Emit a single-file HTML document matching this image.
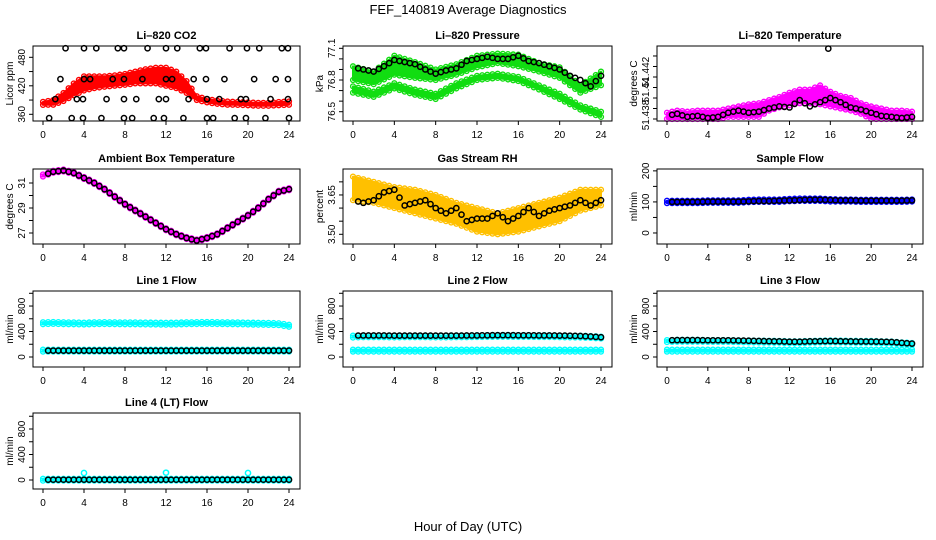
<!DOCTYPE html>
<html><head><meta charset="utf-8">
<style>
html,body{margin:0;padding:0;background:#fff;}
svg{display:block;font-family:"Liberation Sans",Arial,sans-serif;}
</style></head>
<body>
<svg id="chart" width="936" height="540" viewBox="0 0 936 540" xmlns="http://www.w3.org/2000/svg">
<text x="468" y="14" text-anchor="middle" font-size="13">FEF_140819  Average Diagnostics</text>
<text x="468" y="531" text-anchor="middle" font-size="13">Hour of Day (UTC)</text>
</svg>
<script>
// ---------- data ----------
const hours25 = [0,1,2,3,4,5,6,7,8,9,10,11,12,13,14,15,16,17,18,19,20,21,22,23,24];
const hours13 = [0,2,4,6,8,10,12,14,16,18,20,22,24];
const xTicks = [0,4,8,12,16,20,24];

// CO2
const co2Lo = [380,380,388,400,410,415,418,420,422,425,425,425,420,415,405,390,385,382,380,380,379,378,378,379,380];
const co2Hi = [386,390,405,425,440,440,440,442,445,450,455,458,458,450,430,398,392,389,387,386,385,384,384,386,387];
const co2BlackHours = [2.2,4,5.2,7.3,7.9,10.2,12,13.1,15.3,15.9,18.2,19.9,21.1,23.3,23.9,
  1.7,4,4.6,6.8,7.9,9.7,12,12.6,14.7,15.9,17.7,20.6,22.7,23.9,
  1.2,3.3,3.9,6.2,7.9,9.1,11.3,12,14.2,16,17.2,19.3,19.8,22.2,23.9,
  0.6,2.8,3.9,5.7,7.9,8.7,10.8,11.8,13.7,16,16.6,18.7,19.8,21.7,24];
const co2BlackVals = [499,499,499,499,499,499,499,499,499,499,499,499,499,499,499,
  434,434,434,434,434,434,434,434,434,434,434,434,434,434,
  392,392,392,392,392,392,392,392,392,392,392,392,392,392,392,
  352,352,352,352,352,352,352,352,352,352,352,352,352,352,352];

// Pressure
const presUpLo = [76.80,76.76,76.85,76.82,76.80,76.85,76.92,76.96,76.93,76.88,76.82,76.68,76.75];
const presUpHi = [76.93,76.88,77.03,76.97,76.90,76.95,77.03,77.05,77.04,76.96,76.92,76.75,76.88];
const presLowLo = [76.68,76.64,76.72,76.66,76.62,76.72,76.80,76.82,76.79,76.71,76.62,76.52,76.45];
const presLowHi = [76.74,76.69,76.77,76.71,76.67,76.77,76.84,76.86,76.83,76.75,76.67,76.56,76.50];
const presBlack = [76.92,76.90,76.88,76.93,76.99,76.97,76.95,76.90,76.86,76.89,76.91,76.98,77.00,77.02,77.00,77.00,77.03,76.98,76.96,76.93,76.90,76.84,76.80,76.74,76.84];

// Li-820 temperature
const ltLo = [51.4370,51.4370,51.4370,51.4370,51.4370,51.4370,51.4372,51.4372,51.4372,51.4372,51.4378,51.4381,51.4383,51.4385,51.4385,51.4384,51.4382,51.4380,51.4378,51.4375,51.4370,51.4370,51.4370,51.4370,51.4370];
const ltHi = [51.4376,51.4378,51.4377,51.4378,51.4378,51.4378,51.4380,51.4382,51.4384,51.4385,51.4388,51.4391,51.4395,51.4398,51.4398,51.4402,51.4396,51.4392,51.4390,51.4385,51.4382,51.4380,51.4378,51.4378,51.4377];
const ltBlack = [51.4373,51.4375,51.4372,51.4373,51.4371,51.4372,51.4376,51.4378,51.4376,51.4377,51.4380,51.4382,51.4381,51.4388,51.4382,51.4386,51.4390,51.4386,51.4381,51.4379,51.4376,51.4373,51.4372,51.4371,51.4372];

// Ambient box temperature
const ambTemp = [31.6,31.9,32.0,31.8,31.4,31.0,30.5,29.9,29.3,28.8,28.3,27.8,27.3,26.9,26.6,26.4,26.6,26.9,27.4,27.9,28.4,29.0,29.7,30.3,30.5];

// Gas stream RH
const rhLo = [3.63,3.62,3.60,3.58,3.56,3.54,3.51,3.50,3.51,3.53,3.55,3.59,3.61];
const rhHi = [3.72,3.70,3.68,3.67,3.65,3.62,3.60,3.58,3.60,3.62,3.64,3.67,3.67];
const rhBlack = [3.63,3.62,3.63,3.66,3.67,3.61,3.62,3.63,3.60,3.58,3.60,3.55,3.56,3.56,3.58,3.55,3.57,3.60,3.57,3.59,3.60,3.61,3.63,3.61,3.63];

// Sample flow
const sfLo = [96,96,96,96,97,97,97,97,99,100,100,100,102,103,103,103,101,101,101,100,100,100,100,100,101];
const sfHi = [104,104,104,104,105,105,105,105,107,108,108,108,110,111,111,111,109,108,108,107,107,107,107,107,108];
const sfBlack = [100,100,100,100,101,101,101,101,102,103,103,104,105,106,107,107,106,105,105,104,104,104,104,104,105];

// Line flows
const l1CyanHigh = [530,535,530,528,525,530,532,530,528,528,526,525,522,525,530,532,535,532,530,528,525,522,520,515,490];
const l1CyanLow = [100,100,100,100,100,100,100,100,100,100,100,100,100,100,100,100,100,100,100,100,100,100,100,100,100];
const l1Black = [100,100,100,100,100,100,100,100,100,100,100,100,100,100,100,100,100,100,100,100,100,100,100,100,100];
const l2CyanHigh = [320,325,325,325,322,325,325,325,322,322,325,325,328,330,332,332,330,330,328,328,325,322,320,315,305];
const l2CyanLow = [100,100,100,100,100,100,100,100,100,100,100,100,100,100,100,100,100,100,100,100,100,100,100,100,100];
const l2Black = [335,338,338,338,335,336,336,336,335,335,336,337,338,340,342,342,340,340,338,338,336,334,330,322,310];
const l3CyanHigh = [250,255,255,255,252,252,252,248,245,242,240,238,232,232,238,242,245,243,240,238,238,232,228,215,205];
const l3CyanLow = [100,100,100,100,100,100,100,100,100,100,100,100,100,100,100,100,100,100,100,100,100,100,100,100,100];
const l3Black = [262,265,265,265,262,262,262,258,255,252,248,245,240,240,245,248,250,248,245,243,242,240,236,222,210];
const l4Cyan = [5,5,5,5,5,5,5,5,5,5,5,5,5,5,5,5,5,5,5,5,5,5,5,5,5];
const l4CyanOutHours = [4,12,20];
const l4CyanOutVals = [110,115,110];
const l4Black = [5,5,5,5,5,5,5,5,5,5,5,5,5,5,5,5,5,5,5,5,5,5,5,5,5];

// ---------- drawing ----------
const NS = "http://www.w3.org/2000/svg";
const svg = document.getElementById('chart');
function mk(tag, attrs, parent){
  const e = document.createElementNS(NS, tag);
  for (const k in attrs) e.setAttribute(k, attrs[k]);
  (parent||svg).appendChild(e);
  return e;
}

function makePanel(p){
  const g = mk('g', {});
  
  
  p.g = g;
  p.x = h => (p.left + 10) + h / 24 * ((p.right - 11) - (p.left + 10));
  p.y = v => p.bottom - (v - p.ymin) / (p.ymax - p.ymin) * (p.bottom - p.top);
  const t = mk('text', {x:(p.left+p.right)/2, y:p.top-7, 'text-anchor':'middle', 'font-size':11, 'font-weight':'bold'}, g);
  t.textContent = p.title;
  
  
  return p;
}

function finishPanel(p){
  const g = p.g;
  const box = mk('rect', {x:p.left, y:p.top, width:p.right-p.left, height:p.bottom-p.top, fill:'none', stroke:'#000', 'stroke-width':1}, g);
  
  
  const xa = mk('g', {}, g);
  
  
  xTicks.forEach(h => {
    const x = p.x(h);
    mk('line', {x1:x, x2:x, y1:p.bottom, y2:p.bottom+4, stroke:'#000'}, xa);
    const tl = mk('text', {x:x, y:p.bottom+17, 'text-anchor':'middle', 'font-size':10}, xa);
    tl.textContent = h;
  });
  const ya = mk('g', {}, g);
  
  
  p.yticks.forEach(v => {
    const y = p.y(v);
    mk('line', {x1:p.left-4, x2:p.left, y1:y, y2:y, stroke:'#000'}, ya);
  });
  p.ylabels.forEach((lab, i) => {
    const y = p.y(p.ylabelVals[i]);
    const tl = mk('text', {x:0, y:0, 'text-anchor':'middle', 'font-size':10, transform:`translate(${p.left-8},${y}) rotate(-90)`}, ya);
    tl.textContent = lab;
  });
  const yt = mk('text', {x:0, y:0, 'text-anchor':'middle', 'font-size':10, transform:`translate(${p.left-20},${(p.top+p.bottom)/2}) rotate(-90)`}, g);
  yt.textContent = p.ytitle;
  
  
}

function interp(hs, vals, h){
  for (let i=0;i<hs.length-1;i++){
    if (h>=hs[i] && h<=hs[i+1]){
      const f=(h-hs[i])/(hs[i+1]-hs[i]);
      return vals[i]+(vals[i+1]-vals[i])*f;
    }
  }
  return vals[vals.length-1];
}

function band(p, hs, lo, hi, color, name, minPx){
  const g = mk('g', {}, p.g);
  
  
  const top = [], bot = [];
  for (let h=0; h<=24.0001; h+=0.25){
    let yl = p.y(interp(hs, lo, h)), yh = p.y(interp(hs, hi, h));
    if (yl - yh < (minPx||0)) { const c=(yl+yh)/2; yl=c+minPx/2; yh=c-minPx/2; }
    top.push([p.x(h), yh]); bot.push([p.x(h), yl]);
  }
  const pts = top.concat(bot.slice().reverse()).map(q=>q[0].toFixed(1)+','+q[1].toFixed(1)).join(' ');
  mk('polygon', {points:pts, fill:color, stroke:color, 'stroke-width':2, 'stroke-linejoin':'round'}, g);
  for (let i=0;i<top.length;i+=2){
    mk('circle', {cx:top[i][0], cy:top[i][1], r:2.4, fill:'none', stroke:color, 'stroke-width':1.4}, g);
    mk('circle', {cx:bot[i][0], cy:bot[i][1], r:2.4, fill:'none', stroke:color, 'stroke-width':1.4}, g);
  }
  return g;
}

function points(p, hs, vals, color, name, r){
  const g = mk('g', {}, p.g);
  
  
  hs.forEach((h,i) => {
    mk('circle', {cx:p.x(h), cy:p.y(vals[i]), r:r||2.6, fill:'none', stroke:color, 'stroke-width':1.5}, g);
  });
  return g;
}
function halfHours(vals){
  const hs=[], vs=[];
  for (let h=0.5; h<=24; h+=0.5){ hs.push(h); vs.push(interp(hours25, vals, h)); }
  return [hs, vs];
}

const C = [[33,300],[343,612],[657,923]];
const R = [[46,121],[169,244],[291,367],[413,489]];

// Panel 1 CO2
let p = makePanel({id:'co2', title:'Li\u2013820 CO2', left:C[0][0], right:C[0][1], top:R[0][0], bottom:R[0][1], ymin:345.9, ymax:503.8,
  yticks:[360,390,420,450,480], ylabels:['360','420','480'], ylabelVals:[360,420,480], ytitle:'Licor ppm'});
band(p, hours25, co2Lo, co2Hi, '#ff0000', 'co2-red-series', 3);
points(p, co2BlackHours, co2BlackVals, '#000', 'co2-black-series');
finishPanel(p);

// Panel 2 Pressure
p = makePanel({id:'pressure', title:'Li\u2013820 Pressure', left:C[1][0], right:C[1][1], top:R[0][0], bottom:R[0][1], ymin:76.412, ymax:77.122,
  yticks:[76.5,76.6,76.7,76.8,76.9,77.0,77.1], ylabels:['76.5','76.8','77.1'], ylabelVals:[76.5,76.8,77.1], ytitle:'kPa'});
band(p, hours13, presUpLo, presUpHi, '#11dd11', 'pressure-green-upper', 3);
band(p, hours13, presLowLo, presLowHi, '#11dd11', 'pressure-green-lower', 3);
let hh = halfHours(presBlack);
points(p, hh[0], hh[1], '#000', 'pressure-black-series');
finishPanel(p);

// Panel 3 Li-820 temperature
p = makePanel({id:'li820-temp', title:'Li\u2013820 Temperature', left:C[2][0], right:C[2][1], top:R[0][0], bottom:R[0][1], ymin:51.43681, ymax:51.44395,
  yticks:[51.437,51.438,51.439,51.440,51.441,51.442,51.443], ylabels:['51.438','51.44','51.442'], ylabelVals:[51.43738,51.43976,51.44147], ytitle:'degrees C'});
band(p, hours25, ltLo, ltHi, '#ff00ff', 'temp-magenta-series', 3);
hh = halfHours(ltBlack);
points(p, hh[0].concat([15.8]), hh[1].concat([51.4437]), '#000', 'temp-black-series');
finishPanel(p);

// Panel 4 Ambient
p = makePanel({id:'ambient', title:'Ambient Box Temperature', left:C[0][0], right:C[0][1], top:R[1][0], bottom:R[1][1], ymin:26.12, ymax:32.12,
  yticks:[27,28,29,30,31], ylabels:['27','29','31'], ylabelVals:[27,29,31], ytitle:'degrees C'});
band(p, hours25, ambTemp, ambTemp, '#ff00ff', 'ambient-magenta-series', 2);
hh = halfHours(ambTemp);
points(p, hh[0], hh[1], '#000', 'ambient-black-series');
finishPanel(p);

// Panel 5 RH
p = makePanel({id:'rh', title:'Gas Stream RH', left:C[1][0], right:C[1][1], top:R[1][0], bottom:R[1][1], ymin:3.463, ymax:3.749,
  yticks:[3.50,3.55,3.60,3.65,3.70], ylabels:['3.50','3.65'], ylabelVals:[3.50,3.65], ytitle:'percent'});
band(p, hours13, rhLo, rhHi, '#ffc000', 'rh-orange-series', 3);
hh = halfHours(rhBlack);
points(p, hh[0], hh[1], '#000', 'rh-black-series');
finishPanel(p);

// Panel 6 Sample flow
p = makePanel({id:'sample-flow', title:'Sample Flow', left:C[2][0], right:C[2][1], top:R[1][0], bottom:R[1][1], ymin:-35.5, ymax:206,
  yticks:[0,50,100,150,200], ylabels:['0','100','200'], ylabelVals:[0,100,200], ytitle:'ml/min'});
band(p, hours25, sfLo, sfHi, '#0000ff', 'sample-flow-blue-series', 2);
hh = halfHours(sfBlack);
points(p, hh[0], hh[1], '#000', 'sample-flow-black-series');
finishPanel(p);

const flowTicks = [0,200,400,600,800,1000];
function flowPanel(id, title, col, row, ymin, ymax, highs, lows, black){
  const q = makePanel({id:id, title:title, left:C[col][0], right:C[col][1], top:R[row][0], bottom:R[row][1], ymin:ymin, ymax:ymax,
    yticks:flowTicks, ylabels:['0','400','800'], ylabelVals:[0,400,800], ytitle:'ml/min'});
  if (highs) band(q, hours25, highs, highs, '#00ffff', 'cyan-high-series', 2);
  band(q, hours25, lows, lows, '#00ffff', 'cyan-low-series', 2);
  const b = halfHours(black);
  points(q, b[0], b[1], '#000', 'black-series');
  return q;
}
p = flowPanel('line1-flow', 'Line 1 Flow', 0, 2, -157, 1036, l1CyanHigh, l1CyanLow, l1Black); finishPanel(p);
p = flowPanel('line2-flow', 'Line 2 Flow', 1, 2, -157, 1036, l2CyanHigh, l2CyanLow, l2Black); finishPanel(p);
p = flowPanel('line3-flow', 'Line 3 Flow', 2, 2, -157, 1036, l3CyanHigh, l3CyanLow, l3Black); finishPanel(p);
p = flowPanel('line4-flow', 'Line 4 (LT) Flow', 0, 3, -141, 1051, null, l4Cyan, l4Black);
points(p, l4CyanOutHours, l4CyanOutVals, '#00ffff', 'cyan-outliers');
finishPanel(p);
</script>
</body></html>
